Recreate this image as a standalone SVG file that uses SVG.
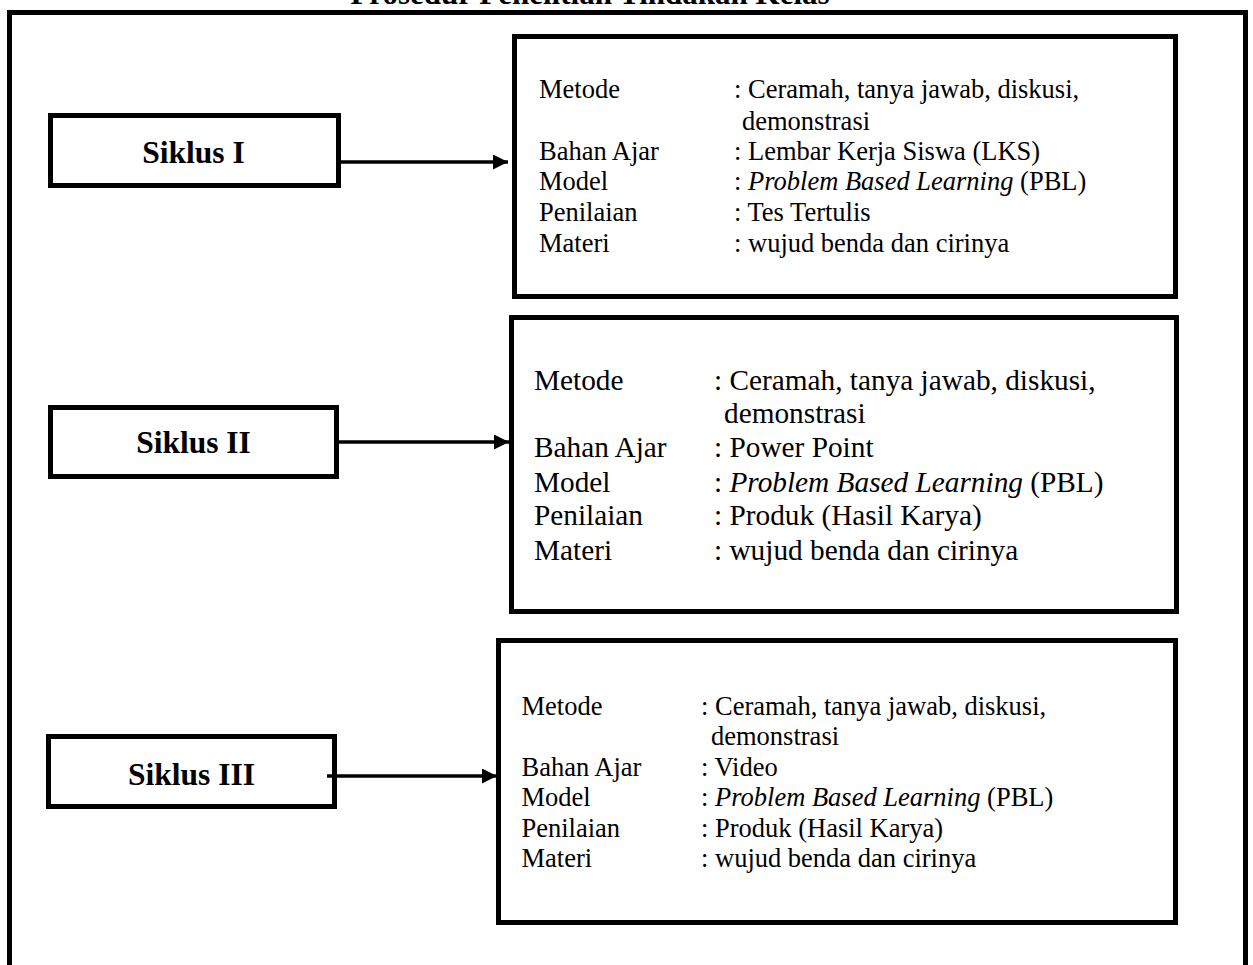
<svg xmlns="http://www.w3.org/2000/svg" width="1253" height="965" viewBox="0 0 1253 965">
<defs>
<style>
.box{fill:#fff;stroke:#000;stroke-width:5}
.lbl{font-family:"Liberation Serif","Times New Roman",serif;font-weight:bold;font-size:31.5px;text-anchor:middle;fill:#000}
.t1{font-family:"Liberation Serif","Times New Roman",serif;font-size:26.5px;fill:#000}
.t2{font-family:"Liberation Serif","Times New Roman",serif;font-size:29.3px;fill:#000}
.it{font-style:italic}
.con{stroke:#000;stroke-width:3.5;fill:none;marker-end:url(#ah)}
</style>
<marker id="ah" viewBox="0 0 10 10" refX="10" refY="5" markerUnits="userSpaceOnUse" markerWidth="16" markerHeight="15" orient="auto">
<path d="M0,0 L10,5 L0,10 z" fill="#000"/>
</marker>
</defs>
<rect width="1253" height="965" fill="#fff"/>
<text x="590" y="4" style="font-family:'Liberation Serif','Times New Roman',serif;font-weight:bold;font-size:31px;text-anchor:middle">Prosedur Penelitian Tindakan Kelas</text>
<rect x="9.5" y="12.5" width="1236" height="1000" fill="none" stroke="#000" stroke-width="5"/>

<g id="siklus1">
<rect class="box" x="50.5" y="115.5" width="288" height="70"/>
<text class="lbl" x="193.5" y="163">Siklus I</text>
</g>
<g id="siklus2">
<rect class="box" x="50.5" y="407.5" width="286" height="69"/>
<text class="lbl" x="193.5" y="453">Siklus II</text>
</g>
<g id="siklus3">
<rect class="box" x="48.5" y="736.5" width="286" height="70"/>
<text class="lbl" x="191.5" y="785">Siklus III</text>
</g>

<g id="box1">
<rect class="box" x="514.5" y="36.5" width="661" height="260"/>
<text class="t1" x="539" y="98">Metode</text>
<text class="t1" x="734" y="98">: Ceramah, tanya jawab, diskusi,</text>
<text class="t1" x="742" y="130">demonstrasi</text>
<text class="t1" x="539" y="160">Bahan Ajar</text>
<text class="t1" x="734" y="160">: Lembar Kerja Siswa (LKS)</text>
<text class="t1" x="539" y="190">Model</text>
<text class="t1" x="734" y="190">: <tspan class="it">Problem Based Learning</tspan> (PBL)</text>
<text class="t1" x="539" y="221">Penilaian</text>
<text class="t1" x="734" y="221">: Tes Tertulis</text>
<text class="t1" x="539" y="252">Materi</text>
<text class="t1" x="734" y="252">: wujud benda dan cirinya</text>
</g>

<g id="box2">
<rect class="box" x="511.5" y="317.5" width="665" height="294"/>
<text class="t2" x="534" y="390">Metode</text>
<text class="t2" x="714" y="390">: Ceramah, tanya jawab, diskusi,</text>
<text class="t2" x="724" y="423">demonstrasi</text>
<text class="t2" x="534" y="457">Bahan Ajar</text>
<text class="t2" x="714" y="457">: Power Point</text>
<text class="t2" x="534" y="492">Model</text>
<text class="t2" x="714" y="492">: <tspan class="it">Problem Based Learning</tspan> (PBL)</text>
<text class="t2" x="534" y="525">Penilaian</text>
<text class="t2" x="714" y="525">: Produk (Hasil Karya)</text>
<text class="t2" x="534" y="560">Materi</text>
<text class="t2" x="714" y="560">: wujud benda dan cirinya</text>
</g>

<g id="box3">
<rect class="box" x="498.5" y="640.5" width="677" height="282"/>
<text class="t1" x="521.5" y="715">Metode</text>
<text class="t1" x="701" y="715">: Ceramah, tanya jawab, diskusi,</text>
<text class="t1" x="711" y="745">demonstrasi</text>
<text class="t1" x="521.5" y="776">Bahan Ajar</text>
<text class="t1" x="701" y="776">: Video</text>
<text class="t1" x="521.5" y="806">Model</text>
<text class="t1" x="701" y="806">: <tspan class="it">Problem Based Learning</tspan> (PBL)</text>
<text class="t1" x="521.5" y="837">Penilaian</text>
<text class="t1" x="701" y="837">: Produk (Hasil Karya)</text>
<text class="t1" x="521.5" y="867">Materi</text>
<text class="t1" x="701" y="867">: wujud benda dan cirinya</text>
</g>

<g id="connectors">
<line class="con" x1="336" y1="162" x2="508" y2="162"/>
<line class="con" x1="336" y1="442" x2="509" y2="442"/>
<line class="con" x1="327" y1="776" x2="497" y2="776"/>
</g>
</svg>
